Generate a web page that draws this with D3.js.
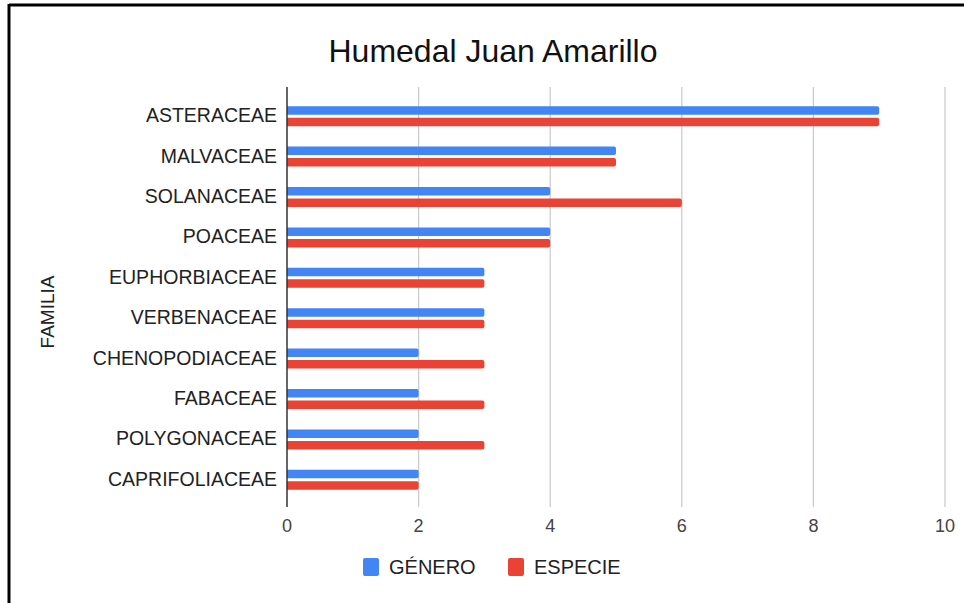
<!DOCTYPE html>
<html><head><meta charset="utf-8">
<script src="https://cdn.jsdelivr.net/npm/d3@7"></script>
<style>body{margin:0;background:#fff}svg{display:block;font-family:"Liberation Sans",Arial,sans-serif}</style>
</head><body><svg id="c" width="964" height="603"></svg>
<script>
const categories = ["ASTERACEAE","MALVACEAE","SOLANACEAE","POACEAE","EUPHORBIACEAE","VERBENACEAE","CHENOPODIACEAE","FABACEAE","POLYGONACEAE","CAPRIFOLIACEAE"];
const seriesNames = ["GÉNERO","ESPECIE"];
const genero = [9,5,4,4,3,3,2,2,2,2];
const especie = [9,5,6,4,3,3,3,3,3,2];
const xTicks = [0,2,4,6,8,10];
const colors = ["#4285F4","#EA4335"];

const svg = d3.select("#c");
svg.append("rect").attr("x",0).attr("y",0).attr("width",964).attr("height",603).attr("fill","#fff");
// border (top & left)
svg.append("line").attr("x1",9).attr("x2",964).attr("y1",5).attr("y2",5).attr("stroke","#000").attr("stroke-width",3);
svg.append("line").attr("x1",9).attr("x2",9).attr("y1",4).attr("y2",603).attr("stroke","#000").attr("stroke-width",3);

const x = d3.scaleLinear().domain([0,10]).range([287,945]);
const y = d3.scaleBand().domain(categories).range([96,500]);
const plotTop = 87, plotBottom = 507;

// gridlines
svg.append("g").selectAll("line").data(xTicks.filter(d=>d>0)).join("line")
  .attr("x1",d=>x(d)).attr("x2",d=>x(d)).attr("y1",plotTop).attr("y2",plotBottom)
  .attr("stroke","#cccccc").attr("stroke-width",1.3);

// bars
const data = categories.map((c,i)=>({c, vals:[genero[i], especie[i]]}));
const barH = 8.5, gap = 3;
const g = svg.append("g");
data.forEach(d=>{
  d.vals.forEach((v,j)=>{
    const cy = y(d.c) + y.bandwidth()/2;
    const yy = j===0 ? cy - gap/2 - barH : cy + gap/2;
    const x0=x(0), x1=x(v), r=2;
    g.append("path")
      .attr("d", `M${x0},${yy}H${x1-r}Q${x1},${yy} ${x1},${yy+r}V${yy+barH-r}Q${x1},${yy+barH} ${x1-r},${yy+barH}H${x0}Z`)
      .attr("fill", colors[j]);
  });
});

// axis line
svg.append("line").attr("x1",x(0)).attr("x2",x(0)).attr("y1",plotTop).attr("y2",plotBottom).attr("stroke","#333").attr("stroke-width",1.5);

// x tick labels
svg.append("g").selectAll("text").data(xTicks).join("text")
  .attr("x",d=>x(d)).attr("y",532).attr("text-anchor","middle")
  .attr("font-size",18).attr("fill","#444").text(d=>d);

// y labels
svg.append("g").selectAll("text").data(categories).join("text")
  .attr("x",277).attr("y",d=>y(d)+y.bandwidth()/2+6).attr("text-anchor","end")
  .attr("font-size",19.5).attr("fill","#222").text(d=>d);

// title
svg.append("text").attr("x",493).attr("y",62).attr("text-anchor","middle")
  .attr("font-size",32).attr("fill","#111").text("Humedal Juan Amarillo");

// y axis title
svg.append("text").attr("transform","translate(54,312) rotate(-90)").attr("text-anchor","middle")
  .attr("font-size",19).attr("fill","#222").text("FAMILIA");

// legend
const legX = [363, 508];
seriesNames.forEach((s,i)=>{
  svg.append("rect").attr("x",legX[i]).attr("y",558).attr("width",16).attr("height",18).attr("rx",2).attr("fill",colors[i]);
  svg.append("text").attr("x",legX[i]+26).attr("y",574).attr("font-size",20).attr("fill","#222").text(s);
});
</script></body></html>
